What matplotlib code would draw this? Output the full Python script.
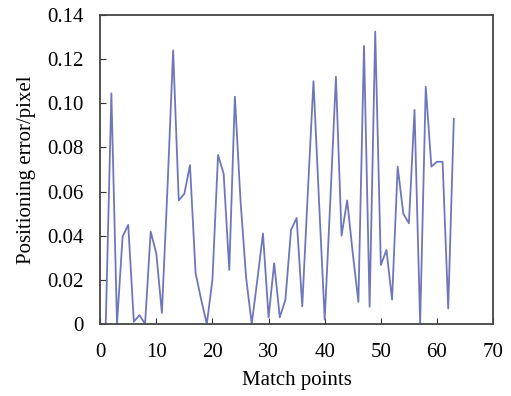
import matplotlib.pyplot as plt
from matplotlib.ticker import FuncFormatter

plt.rcParams['font.family'] = ['Liberation Serif', 'DejaVu Serif']

# positioning error for each match point
points = list(range(1, 64))
error = [0.0, 0.1045, 0.0, 0.0396, 0.0449, 0.001, 0.004, 0.0, 0.0418, 0.032,
         0.005, 0.062, 0.124, 0.056, 0.059, 0.072, 0.023, 0.011, 0.0, 0.02,
         0.0766, 0.068, 0.0245, 0.103, 0.056, 0.021, 0.0, 0.02, 0.041, 0.003,
         0.0275, 0.003, 0.011, 0.0426, 0.048, 0.008, 0.06, 0.11, 0.055, 0.002,
         0.056, 0.112, 0.04, 0.056, 0.032, 0.01, 0.126, 0.0078, 0.1325, 0.0267,
         0.0335, 0.011, 0.0713, 0.05, 0.0456, 0.097, 0.0, 0.1075, 0.0713, 0.0735,
         0.0735, 0.007, 0.093]

fig = plt.figure(figsize=(5.11, 3.96), dpi=100)
ax = fig.add_axes([0.196, 0.182, 0.769, 0.780])
ax.plot(points, error, color='#6f77bb', linewidth=1.3)

ax.set_xlim(0, 70)
ax.set_ylim(0, 0.14)
ax.set_xticks(range(0, 71, 10))
ax.set_yticks([0, 0.02, 0.04, 0.06, 0.08, 0.10, 0.12, 0.14])
ax.yaxis.set_major_formatter(FuncFormatter(lambda v, p: '0' if v == 0 else '%.2f' % v))
ax.tick_params(direction='in', length=4, labelsize=15, color='#333333')
ax.tick_params(axis='x', pad=14)
ax.tick_params(axis='y', pad=12)
for s in ax.spines.values():
    s.set_color('#444444')
    s.set_linewidth(1.3)

ax.set_xlabel('Match points', fontsize=15, labelpad=6)
ax.set_ylabel('Positioning error/pixel', fontsize=15, labelpad=8)

fig.savefig('out.png', dpi=100)
